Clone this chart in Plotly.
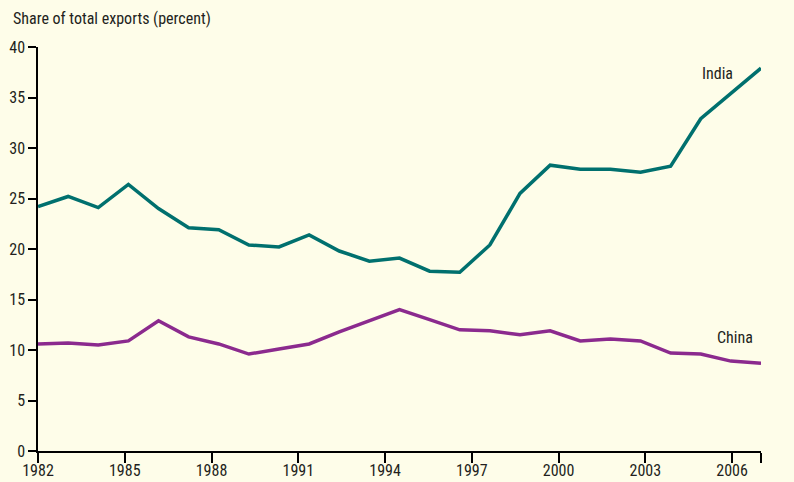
import plotly.graph_objects as go

# annual observations, 1982-2006
years = list(range(1982, 2007))
india = [24.2, 25.2, 24.1, 26.4, 24.0, 22.1, 21.9, 20.4, 20.2, 21.4,
         19.8, 18.8, 19.1, 17.8, 17.7, 20.4, 25.5, 28.3, 27.9, 27.9,
         27.6, 28.2, 32.9, 35.4, 37.9]
china = [10.6, 10.7, 10.5, 10.9, 12.9, 11.3, 10.6, 9.6, 10.1, 10.6,
         11.8, 12.9, 14.0, 13.0, 12.0, 11.9, 11.5, 11.9, 10.9, 11.1,
         10.9, 9.7, 9.6, 8.9, 8.7]

tick_years = [1982, 1985, 1988, 1991, 1994, 1997, 2000, 2003, 2006, 2007]
tick_text = ["1982", "1985", "1988", "1991", "1994", "1997", "2000", "2003", "2006", ""]
y_ticks = [0, 5, 10, 15, 20, 25, 30, 35, 40]

BG = "#fefde9"
TEXT = "#231f20"
FONT = "Roboto Condensed, Liberation Sans Narrow, Roboto, sans-serif"

fig = go.Figure()
# empty trace so the tick axis (x) gets drawn
fig.add_trace(go.Scatter(x=[], y=[], xaxis="x", yaxis="y", hoverinfo="skip"))
fig.add_trace(go.Scatter(x=years, y=india, mode="lines", name="India",
                         line=dict(color="#00706e", width=3.5),
                         xaxis="x2", yaxis="y"))
fig.add_trace(go.Scatter(x=years, y=china, mode="lines", name="China",
                         line=dict(color="#8b2a8e", width=3.5),
                         xaxis="x2", yaxis="y"))

fig.update_layout(
    width=794, height=482,
    paper_bgcolor=BG, plot_bgcolor=BG,
    showlegend=False,
    margin=dict(l=38, r=33, t=47, b=31),
    font=dict(family=FONT, size=16, color=TEXT),
    xaxis=dict(range=[1982, 2007], tickvals=tick_years, ticktext=tick_text,
               automargin=False, ticklabelstandoff=-6,
               showgrid=False, zeroline=False, showline=True,
               linecolor="black", linewidth=1.5,
               ticks="outside", ticklen=10, tickwidth=1.5, tickcolor="black"),
    xaxis2=dict(range=[1982, 2006], overlaying="x", visible=False),
    yaxis=dict(range=[0, 40], tickvals=y_ticks, automargin=False,
               showgrid=False, zeroline=False, showline=True,
               linecolor="black", linewidth=1.5,
               ticks="outside", ticklen=8, tickwidth=1.5, tickcolor="black"),
    annotations=[
        dict(text="Share of total exports (percent)", xref="paper", yref="paper",
             x=0, y=1, xanchor="left", yanchor="middle", xshift=-27, yshift=29,
             showarrow=False),
        dict(text="India", xref="x2", yref="y", x=2004.55, y=37.4, showarrow=False),
        dict(text="China", xref="x2", yref="y", x=2005.15, y=11.2, showarrow=False),
    ],
)

fig.write_html("out.html", config={"displayModeBar": False},
               post_script="document.body.style.margin='0';")
